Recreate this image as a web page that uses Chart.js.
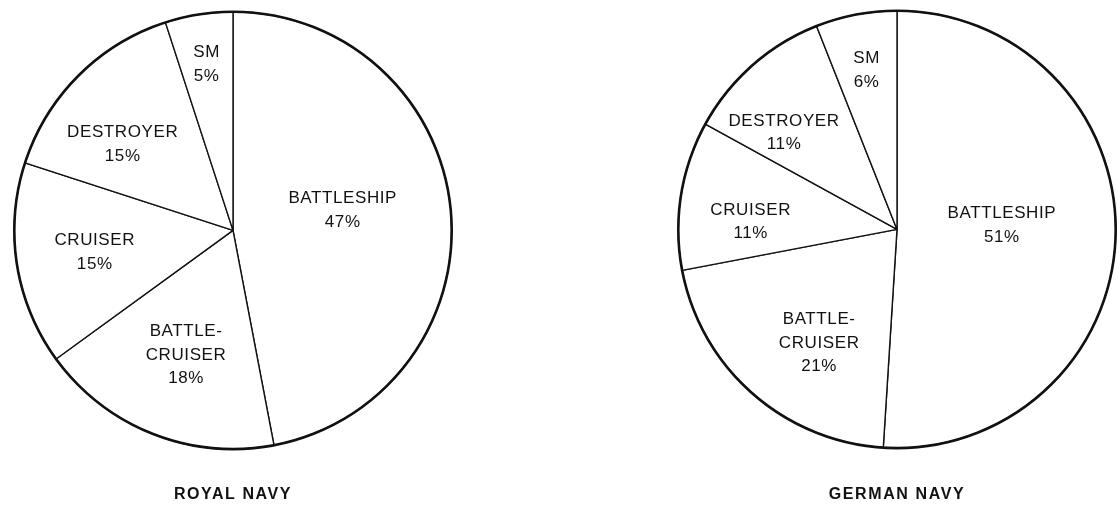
<!DOCTYPE html>
<html>
<head>
<meta charset="utf-8">
<title>Royal Navy / German Navy</title>
<script src="https://cdn.jsdelivr.net/npm/chart.js@4.4.0/dist/chart.umd.min.js"></script>
<style>
    html, body { margin: 0; padding: 0; background: #fff; overflow: hidden; }
    body { width: 1117px; height: 506px; position: relative; }
    .pie { position: absolute; top: 0; height: 506px; }
    #royal { left: 0; width: 466px; }
    #german { left: 677px; width: 440px; }
</style>
</head>
<body>
<div class="pie" id="royal"><canvas id="royalChart"></canvas></div>
<div class="pie" id="german"><canvas id="germanChart"></canvas></div>

<script>
// Ship categories, in drawing order (clockwise from 12 o'clock)
const categories = ['BATTLESHIP', 'BATTLE-CRUISER', 'CRUISER', 'DESTROYER', 'SM'];
const royalNavyShare = [47, 18, 15, 15, 5];
const germanNavyShare = [51, 21, 11, 11, 6];

const FONT = "'Liberation Sans', Arial, Helvetica, sans-serif";
const INK = '#111';

// where each slice label sits: fraction of the radius, plus a small turn in degrees
const royalLabelSpots = { radius: [0.51, 0.61, 0.64, 0.64, 0.77], turn: [-5, -1, 0, -7, 0] };
const germanLabelSpots = { radius: [0.48, 0.63, 0.67, 0.68, 0.74], turn: [-4, -7, -6, -8, 0] };

// "BATTLE-CRUISER" is broken after the hyphen
function labelLines(name) {
    const cut = name.indexOf('-');
    return cut > 0 ? [name.slice(0, cut + 1), name.slice(cut + 1)] : [name];
}

// thick outer rim + text inside each slice
const sliceLabels = {
    id: 'sliceLabels',
    beforeDraw(chart) {
        chart.ctx.letterSpacing = '1.6px'; // title spacing
    },
    afterDatasetsDraw(chart, args, opts) {
        const ctx = chart.ctx;
        const meta = chart.getDatasetMeta(0);
        const values = chart.data.datasets[0].data;
        const first = meta.data[0];

        ctx.save();
        ctx.beginPath();
        ctx.arc(first.x, first.y, first.outerRadius, 0, Math.PI * 2);
        ctx.lineWidth = 2.6;
        ctx.strokeStyle = INK;
        ctx.stroke();

        ctx.letterSpacing = '0.6px';
        ctx.font = '17px ' + FONT;
        ctx.fillStyle = INK;
        ctx.textAlign = 'center';
        ctx.textBaseline = 'middle';
        const lineH = 23.5;

        meta.data.forEach((arc, i) => {
            const mid = (arc.startAngle + arc.endAngle) / 2 + opts.spots.turn[i] * Math.PI / 180;
            const r = arc.outerRadius * opts.spots.radius[i];
            const cx = arc.x + Math.cos(mid) * r;
            const cy = arc.y + Math.sin(mid) * r;
            const lines = labelLines(chart.data.labels[i]).concat(values[i] + '%');
            const top = cy - (lines.length - 1) * lineH / 2;
            lines.forEach((t, k) => ctx.fillText(t, cx, top + k * lineH));
        });
        ctx.restore();
    }
};

function makePie(canvasId, title, shares, spots, padTop, titleGap) {
    return new Chart(document.getElementById(canvasId), {
        type: 'pie',
        data: {
            labels: categories,
            datasets: [{
                data: shares,
                backgroundColor: '#fff',
                borderColor: INK,
                borderWidth: 1.4,
                hoverOffset: 0
            }]
        },
        options: {
            responsive: true,
            maintainAspectRatio: false,
            animation: false,
            events: [],
            layout: { padding: { top: padTop, bottom: 2 } },
            plugins: {
                legend: { display: false },
                tooltip: { enabled: false },
                title: {
                    display: true,
                    text: title,
                    position: 'bottom',
                    color: INK,
                    font: { family: FONT, size: 16, weight: 'bold' },
                    padding: { top: titleGap, bottom: 0 }
                },
                sliceLabels: { spots: spots }
            }
        },
        plugins: [sliceLabels]
    });
}

makePie('royalChart', 'ROYAL NAVY', royalNavyShare, royalLabelSpots, 11, 35);
makePie('germanChart', 'GERMAN NAVY', germanNavyShare, germanLabelSpots, 10, 36);
</script>
</body>
</html>
